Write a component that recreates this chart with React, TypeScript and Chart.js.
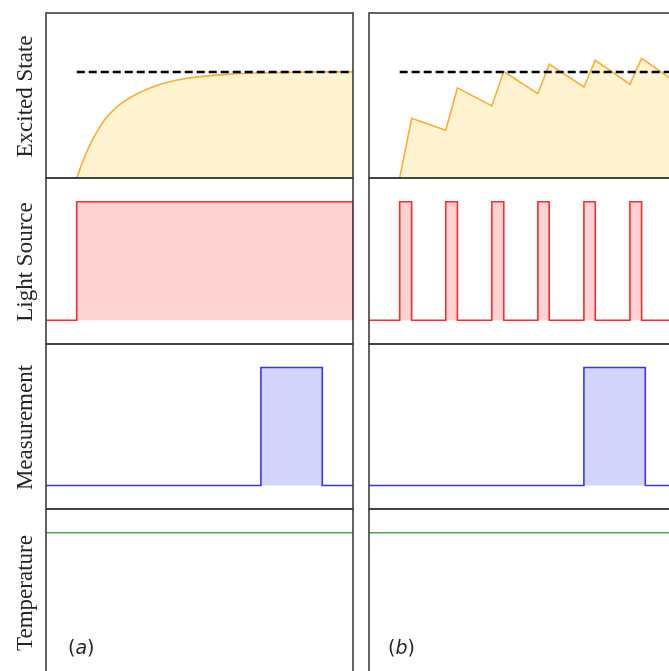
import React, { useEffect, useRef } from "react";
import { Chart, registerables } from "chart.js";

Chart.register(...registerables);

// ---------- data ----------
const timeMin = 0;
const timeMax = 10;
const rowLabels = ["Excited State", "Light Source", "Measurement", "Temperature"];
const columnTags = ["a", "b"];

const saturationLevel = 1;
const saturationStart = 1;

// (a) continuous illumination: excited-state build-up
const continuousExcitedTime = [1, 1.25, 1.5, 1.75, 2, 2.25, 2.5, 3, 3.5, 4, 4.5, 5, 6, 7, 8, 9, 10];
const continuousExcitedLevel = [0, 0.195, 0.353, 0.479, 0.581, 0.655, 0.713, 0.798, 0.86, 0.904, 0.935, 0.955, 0.979, 0.99, 0.996, 1.0, 1.0];

// (b) pulsed illumination: saw-tooth build-up
const pulsedExcitedTime = [1, 1.39, 2.5, 2.88, 4.0, 4.39, 5.5, 5.87, 7.0, 7.37, 8.5, 8.88, 10];
const pulsedExcitedLevel = [0, 0.563, 0.45, 0.849, 0.679, 1.003, 0.795, 1.073, 0.858, 1.11, 0.884, 1.129, 0.9];

// light source windows
const continuousLightOn = [1];
const continuousLightOff = [10];
const pulsedLightOn = [1, 2.5, 4, 5.5, 7, 8.5];
const pulsedLightOff = [1.39, 2.88, 4.39, 5.87, 7.37, 8.88];

// measurement window
const measurementOn = [7];
const measurementOff = [9];

// temperature
const temperatureLevel = 1;

// ---------- helpers ----------
type Pt = { x: number; y: number };

function steps(on: number[], off: number[]): Pt[] {
  const pts: Pt[] = [{ x: timeMin, y: 0 }];
  on.forEach((s, i) => {
    pts.push({ x: s, y: 0 }, { x: s, y: 1 }, { x: off[i], y: 1 }, { x: off[i], y: 0 });
  });
  pts.push({ x: timeMax, y: 0 });
  return pts;
}

function zip(xs: number[], ys: number[]): Pt[] {
  return xs.map((x, i) => ({ x, y: ys[i] }));
}

const ORANGE_LINE = "#FFAE2A";
const ORANGE_FILL = "#FFF3D2";
const RED_LINE = "#FF2A2A";
const RED_FILL = "#FFD3D4";
const BLUE_LINE = "#3535FF";
const BLUE_FILL = "#D5D5FB";
const GREEN_LINE = "#4DA84D";

function excitedDatasets(col: number) {
  const curve =
    col === 0
      ? zip(continuousExcitedTime, continuousExcitedLevel)
      : zip(pulsedExcitedTime, pulsedExcitedLevel);
  return [
    {
      data: [
        { x: saturationStart, y: saturationLevel },
        { x: timeMax, y: saturationLevel },
      ],
      borderColor: "#000000",
      borderWidth: 2.5,
      borderDash: [8, 4],
      fill: false,
      pointRadius: 0,
    },
    {
      data: curve,
      borderColor: ORANGE_LINE,
      backgroundColor: ORANGE_FILL,
      borderWidth: 1.6,
      fill: "origin",
      pointRadius: 0,
      cubicInterpolationMode: col === 0 ? "monotone" : "default",
      tension: 0,
    },
  ];
}

function lightDatasets(col: number) {
  const pts = col === 0 ? steps(continuousLightOn, continuousLightOff) : steps(pulsedLightOn, pulsedLightOff);
  return [
    {
      data: pts,
      borderColor: RED_LINE,
      backgroundColor: RED_FILL,
      borderWidth: 1.6,
      fill: "origin",
      pointRadius: 0,
      tension: 0,
    },
  ];
}

function measurementDatasets() {
  return [
    {
      data: steps(measurementOn, measurementOff),
      borderColor: BLUE_LINE,
      backgroundColor: BLUE_FILL,
      borderWidth: 1.6,
      fill: "origin",
      pointRadius: 0,
      tension: 0,
    },
  ];
}

function temperatureDatasets() {
  return [
    {
      data: [
        { x: timeMin, y: temperatureLevel },
        { x: timeMax, y: temperatureLevel },
      ],
      borderColor: GREEN_LINE,
      borderWidth: 1.6,
      fill: false,
      pointRadius: 0,
    },
  ];
}

// ---------- layout ----------
const colLefts = [46, 369];
const colWidth = 307;
const rowTops = [13, 178, 344, 509];
const rowHeights = [165, 166, 165, 166];
const tagOffsets = [22, 19];

type PanelProps = {
  left: number;
  top: number;
  width: number;
  height: number;
  padLeft: number;
  datasets: any[];
  yMin: number;
  yMax: number;
  label?: string;
  tag?: string;
  tagOffset?: number;
};

function Panel(p: PanelProps) {
  const ref = useRef<HTMLCanvasElement>(null);
  const cw = p.padLeft + p.width + 2;
  const ch = p.height + 4;
  useEffect(() => {
    const canvas = ref.current!;
    const decor = {
      id: "decor",
      afterDraw(chart: any) {
        const ctx = chart.ctx as CanvasRenderingContext2D;
        const a = chart.chartArea;
        ctx.save();
        ctx.strokeStyle = "#3c3c3c";
        ctx.lineWidth = 1.6;
        ctx.strokeRect(a.left, a.top, a.right - a.left, a.bottom - a.top);
        ctx.restore();
        if (p.label) {
          ctx.save();
          ctx.translate(a.left - 14.5, (a.top + a.bottom) / 2 + 1);
          ctx.rotate(-Math.PI / 2);
          ctx.font = '23px "Liberation Serif"';
          ctx.fillStyle = "#262626";
          ctx.textAlign = "center";
          ctx.textBaseline = "alphabetic";
          ctx.fillText(p.label, 0, 0);
          ctx.restore();
        }
        if (p.tag) {
          ctx.save();
          const upright = '19px "DejaVu Sans"';
          const italic = 'italic 19px "DejaVu Sans"';
          let x = a.left + (p.tagOffset || 20);
          const y = a.top + 145;
          ctx.fillStyle = "#262626";
          ctx.textAlign = "left";
          ctx.textBaseline = "alphabetic";
          ctx.font = upright;
          ctx.fillText("(", x, y);
          x += ctx.measureText("(").width;
          ctx.font = italic;
          ctx.fillText(p.tag, x, y);
          x += ctx.measureText(p.tag).width;
          ctx.font = upright;
          ctx.fillText(")", x, y);
          ctx.restore();
        }
      },
    };
    const chart = new Chart(canvas, {
      type: "line",
      data: { datasets: p.datasets },
      options: {
        animation: false,
        responsive: false,
        maintainAspectRatio: false,
        devicePixelRatio: 1,
        events: [],
        layout: { padding: { left: p.padLeft, right: 2, top: 2, bottom: 2 } },
        scales: {
          x: { type: "linear", min: timeMin, max: timeMax, display: false },
          y: { type: "linear", min: p.yMin, max: p.yMax, display: false },
        },
        plugins: {
          legend: { display: false },
          tooltip: { enabled: false },
          title: { display: false },
        },
        elements: { point: { radius: 0 } },
      } as any,
      plugins: [decor],
    });
    return () => chart.destroy();
  }, []);
  return (
    <canvas
      ref={ref}
      width={cw}
      height={ch}
      style={{ position: "absolute", left: p.left - p.padLeft, top: p.top - 2, width: cw, height: ch }}
    />
  );
}

export default function App() {
  const panels: PanelProps[] = [];
  for (let c = 0; c < 2; c++) {
    for (let r = 0; r < 4; r++) {
      let datasets: any[];
      let yMin = -0.2;
      let yMax = 1.2;
      if (r === 0) {
        datasets = excitedDatasets(c);
        yMin = 0;
        yMax = 1.555;
      } else if (r === 1) datasets = lightDatasets(c);
      else if (r === 2) datasets = measurementDatasets();
      else datasets = temperatureDatasets();
      panels.push({
        left: colLefts[c],
        top: rowTops[r],
        width: colWidth,
        height: rowHeights[r],
        padLeft: c === 0 ? colLefts[0] : 2,
        datasets,
        yMin,
        yMax,
        label: c === 0 ? rowLabels[r] : undefined,
        tag: r === 3 ? columnTags[c] : undefined,
        tagOffset: tagOffsets[c],
      });
    }
  }
  return (
    <div
      style={{
        position: "absolute",
        left: 0,
        top: 0,
        width: 669,
        height: 671,
        overflow: "hidden",
        background: "#ffffff",
      }}
    >
      {panels.map((p, i) => (
        <Panel key={i} {...p} />
      ))}
    </div>
  );
}
